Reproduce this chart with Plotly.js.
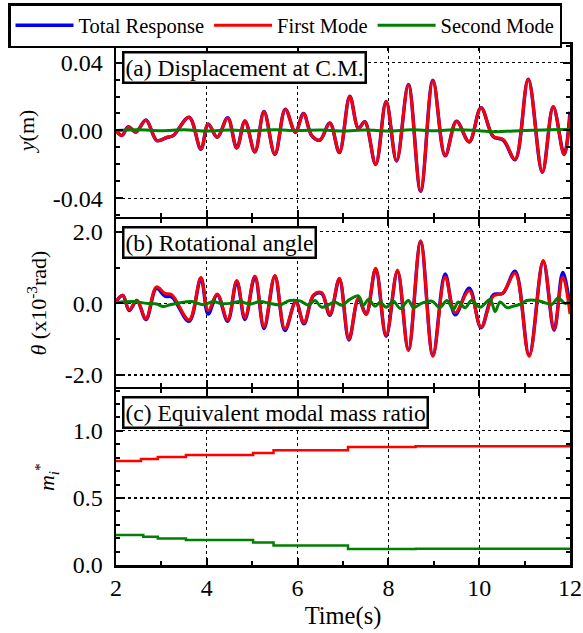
<!DOCTYPE html>
<html>
<head>
<meta charset="utf-8">
<script src="https://cdn.plot.ly/plotly-3.0.1.min.js"></script>
<style>html,body{margin:0;padding:0;background:#fff;}#chart{width:583px;height:633px;}</style>
</head>
<body>
<div id="chart"></div>
<script>
// ---- Panel (a): displacement at C.M. (m) ----
const tA = [2.0, 2.13, 2.27, 2.44, 2.66, 2.9, 3.12, 3.26, 3.61, 3.87, 4.03, 4.23, 4.46, 4.66, 4.84, 5.06, 5.26, 5.5, 5.73, 5.95, 6.13, 6.31, 6.49, 6.71, 6.92, 7.15, 7.34, 7.48, 7.72, 7.95, 8.18, 8.44, 8.71, 8.98, 9.25, 9.5, 9.78, 10.04, 10.31, 10.53, 10.79, 11.08, 11.39, 11.63, 11.87, 12.0];
const firstA = [0.0, -0.003, 0.002, -0.001, 0.006, -0.006, -0.004, -0.003, 0.0077, -0.011, 0.0038, -0.004, 0.0073, -0.0103, 0.0055, -0.0126, 0.011, -0.0141, 0.0124, -0.001, 0.0099, -0.003, -0.0057, 0.0042, -0.013, 0.020, 0.001, 0.005, -0.020, 0.017, -0.018, 0.027, -0.0358, 0.0295, -0.0149, 0.0053, -0.0067, 0.0133, -0.0035, -0.0053, -0.0171, 0.0301, -0.0246, 0.0139, -0.0143, 0.0095];
const totalA = [0.0, -0.003, 0.0022, -0.001, 0.0061, -0.006, -0.0042, -0.0031, 0.0078, -0.0111, 0.0037, -0.0041, 0.0074, -0.0104, 0.0056, -0.0127, 0.0111, -0.0142, 0.0125, -0.0011, 0.01, -0.0031, -0.0058, 0.0043, -0.0131, 0.0201, 0.0012, 0.0051, -0.0201, 0.0171, -0.0181, 0.0271, -0.0359, 0.0296, -0.015, 0.0054, -0.0068, 0.0134, -0.0038, -0.0057, -0.0173, 0.0302, -0.0247, 0.014, -0.0142, 0.011];
const tA2 = [2.0, 2.5, 3.0, 3.5, 4.0, 4.5, 5.0, 5.5, 6.0, 6.5, 7.0, 7.5, 8.0, 8.5, 9.0, 9.5, 10.0, 10.3, 10.6, 11.0, 11.5, 12.0];
const secondA = [0.0, 0.0003, -0.0002, 0.0003, -0.0003, 0.0002, -0.0002, 0.0003, -0.0001, 0.0002, -0.0003, 0.0002, -0.0003, 0.0003, -0.0002, 0.0003, -0.0002, -0.0008, -0.0005, 0.0, 0.0003, 0.0005];

// ---- Panel (b): rotational angle (x10^-3 rad) ----
const tB = [2.0, 2.15, 2.29, 2.46, 2.66, 2.89, 3.08, 3.23, 3.61, 3.87, 4.03, 4.23, 4.46, 4.66, 4.84, 5.06, 5.26, 5.5, 5.72, 5.96, 6.14, 6.35, 6.53, 6.71, 6.92, 7.13, 7.34, 7.51, 7.72, 7.95, 8.2, 8.44, 8.71, 8.98, 9.25, 9.47, 9.78, 10.04, 10.31, 10.52, 10.79, 11.1, 11.41, 11.65, 11.84, 12.0];
const firstB = [0.05, 0.23, -0.18, 0.09, -0.43, 0.46, 0.28, 0.24, -0.46, 0.72, -0.2, 0.26, -0.46, 0.64, -0.4, 0.76, -0.66, 0.78, -0.71, 0.03, -0.54, 0.24, 0.3, -0.31, 0.7, -1.0, 0.15, -0.31, 0.98, -0.9, 0.93, -1.32, 1.75, -1.48, 0.74, -0.26, 0.35, -0.66, 0.2, 0.29, 0.84, -1.48, 1.2, -0.72, 0.74, -0.3];
const totalB = [0.05, 0.22, -0.2, 0.08, -0.45, 0.42, 0.2, 0.18, -0.5, 0.7, -0.3, 0.24, -0.5, 0.62, -0.45, 0.75, -0.7, 0.76, -0.76, 0.05, -0.57, 0.22, 0.28, -0.33, 0.68, -1.02, 0.12, -0.3, 0.96, -0.92, 0.9, -1.3, 1.72, -1.45, 0.82, -0.32, 0.42, -0.68, 0.24, 0.28, 0.9, -1.45, 1.18, -0.75, 0.86, -0.1];
const tB2 = [2.0, 2.38, 2.68, 2.9, 3.04, 3.19, 3.41, 3.67, 3.92, 4.14, 4.29, 4.51, 4.73, 4.95, 5.17, 5.39, 5.61, 5.83, 6.05, 6.24, 6.38, 6.53, 6.71, 6.82, 6.97, 7.15, 7.34, 7.45, 7.56, 7.71, 7.82, 7.95, 8.11, 8.26, 8.44, 8.55, 8.73, 8.96, 9.13, 9.29, 9.43, 9.54, 9.69, 9.83, 10.02, 10.24, 10.35, 10.46, 10.61, 10.75, 10.9, 11.05, 11.27, 11.49, 11.6, 11.74, 11.89, 12.0];
const secondB = [0.02, 0.05, 0.0, -0.02, -0.09, -0.04, 0.02, 0.05, -0.04, 0.05, 0.0, 0.0, 0.05, -0.02, 0.05, 0.0, -0.04, 0.08, 0.07, -0.05, 0.08, -0.11, -0.02, 0.04, -0.05, 0.11, 0.21, -0.05, 0.11, -0.08, 0.04, -0.11, 0.06, -0.14, 0.08, -0.12, 0.0, 0.06, -0.12, 0.08, -0.17, 0.04, -0.12, 0.08, -0.11, 0.11, -0.23, 0.04, -0.12, -0.08, -0.03, 0.08, 0.08, 0.0, -0.03, 0.15, 0.0, 0.06];

// ---- Panel (c): equivalent modal mass ratio ----
const tC1 = [2.0, 2.55, 2.92, 3.54, 5.02, 5.47, 7.11, 8.6, 12.0];
const firstC = [0.775, 0.79, 0.805, 0.82, 0.835, 0.855, 0.88, 0.885, 0.885];
const tC2 = [2.0, 2.6, 2.92, 3.54, 5.02, 5.47, 7.11, 8.6, 12.0];
const secondC = [0.223, 0.21, 0.198, 0.186, 0.168, 0.146, 0.12, 0.122, 0.122];

// ---- labels ----
const seriesNames = ['Total Response', 'First Mode', 'Second Mode'];
const panelLabels = ['(a) Displacement at C.M.', '(b) Rotational angle', '(c) Equivalent modal mass ratio'];
const xTickVals = [2, 4, 6, 8, 10, 12];
const xTickText = ['2', '4', '6', '8', '10', '12'];
const yATickVals = [-0.04, 0.0, 0.04];
const yATickText = ['-0.04', '0.00', '0.04'];
const yBTickVals = [-2, 0, 2];
const yBTickText = ['-2.0', '0.0', '2.0'];
const yCTickVals = [0, 0.5, 1.0];
const yCTickText = ['0.0', '0.5', '1.0'];

const BLUE = '#0000ff', RED = '#ff0000', GREEN = '#008000';
const FONT = "'Liberation Serif', 'Times New Roman', serif";
const LW = 2.5;          // axis line width (px)
const ML = 116, MR = 13, MT = 44, MB = 68;
const W = 583 - ML - MR, H = 633 - MT - MB;
const GAP = LW / H;      // domain gap so adjacent panel borders coincide

function tr(x, y, name, color, xa, ya, show, shape, w) {
  return {x: x, y: y, name: name, type: 'scatter', mode: 'lines', xaxis: xa, yaxis: ya,
    showlegend: show, line: {color: color, width: w, shape: shape, smoothing: 1}, hoverinfo: 'skip'};
}

const data = [
  tr(tA, totalA, seriesNames[0], BLUE, 'x', 'y', true, 'spline', 3.5),
  tr(tA, firstA, seriesNames[1], RED, 'x', 'y', true, 'spline', 3),
  tr(tA2, secondA, seriesNames[2], GREEN, 'x', 'y', true, 'spline', 3),
  tr(tB, totalB, seriesNames[0], BLUE, 'x2', 'y2', false, 'spline', 3.5),
  tr(tB, firstB, seriesNames[1], RED, 'x2', 'y2', false, 'spline', 3),
  tr(tB2, secondB, seriesNames[2], GREEN, 'x2', 'y2', false, 'spline', 3),
  tr(tC1, firstC, seriesNames[1], RED, 'x3', 'y3', false, 'hv', 2.5),
  tr(tC2, secondC, seriesNames[2], GREEN, 'x3', 'y3', false, 'hv', 2.5)
];

const TICKFONT = {family: FONT, size: 24, color: '#000'};

function xax(anchor, labels) {
  const a = {
    anchor: anchor, range: [2, 12], tickvals: xTickVals, ticktext: xTickText,
    showticklabels: labels, ticks: 'inside', ticklen: 7, tickwidth: 2, tickcolor: '#000',
    mirror: 'allticks', showline: true, linecolor: '#000', linewidth: LW,
    showgrid: true, gridcolor: '#000', griddash: 'dot', gridwidth: 1.2, zeroline: false,
    minor: {dtick: 1, tick0: 2, ticks: 'inside', ticklen: 4, tickwidth: 2, tickcolor: '#000', showgrid: false},
    tickfont: TICKFONT
  };
  if (labels) a.title = {text: 'Time(s)', font: {family: FONT, size: 24.5, color: '#000'}, standoff: 7};
  return a;
}
function yax(anchor, domain, range, vals, text, minorD, title) {
  return {
    anchor: anchor, domain: domain, range: range, tickvals: vals, ticktext: text,
    ticks: 'inside', ticklen: 7, tickwidth: 2, tickcolor: '#000', ticklabelstandoff: 6,
    mirror: 'allticks', showline: true, linecolor: '#000', linewidth: LW,
    showgrid: true, gridcolor: '#000', griddash: 'dot', gridwidth: 1.2, zeroline: false,
    minor: {dtick: minorD, ticks: 'inside', ticklen: 4, tickwidth: 2, tickcolor: '#000', showgrid: false},
    tickfont: TICKFONT,
    title: {text: title, font: {family: FONT, size: 22, color: '#000'}, standoff: 12}
  };
}

function box(i, xr, yr) {
  return {xref: xr + ' domain', yref: yr + ' domain', x: 0.013, y: 0.96, xanchor: 'left', yanchor: 'top',
    text: panelLabels[i], showarrow: false, align: 'left',
    font: {family: FONT, size: 23.5, color: '#000'},
    bgcolor: '#fff', bordercolor: '#000', borderwidth: 2.5, borderpad: 1};
}

const dA = [0.666 + GAP / 2, 1];
const dB = [0.3397 + GAP / 2, 0.666 - GAP / 2];
const dC = [0, 0.3397 - GAP / 2];

const layout = {
  width: 583, height: 633,
  margin: {l: ML, r: MR, t: MT, b: MB, autoexpand: false},
  paper_bgcolor: '#fff', plot_bgcolor: '#fff',
  font: {family: FONT, color: '#000'},
  xaxis: xax('y', false),
  xaxis2: xax('y2', false),
  xaxis3: xax('y3', true),
  yaxis: yax('x', dA, [-0.051, 0.051], yATickVals, yATickText, 0.01, '<i>y</i>(m)'),
  yaxis2: yax('x2', dB, [-2.33, 2.35], yBTickVals, yBTickText, 1, '<i>θ</i> (x10<sup>-3</sup>rad)'),
  yaxis3: yax('x3', dC, [0, 1.31], yCTickVals, yCTickText, 0.1, '<i>m</i><sub><i>i</i></sub><sup>*</sup>'),
  showlegend: true,
  legend: {
    orientation: 'h', xref: 'paper', yref: 'paper',
    x: (8 - ML) / W, y: 1 + (MT - 3) / H,
    xanchor: 'left', yanchor: 'top', bordercolor: '#000', borderwidth: 2.5, bgcolor: '#fff',
    font: {family: FONT, size: 20.5, color: '#000'}, itemwidth: 58, tracegroupgap: 0
  },
  annotations: [box(0, 'x', 'y'), box(1, 'x2', 'y2'), box(2, 'x3', 'y3')]
};

Plotly.newPlot('chart', data, layout, {displayModeBar: false, staticPlot: true});
</script>
</body>
</html>
